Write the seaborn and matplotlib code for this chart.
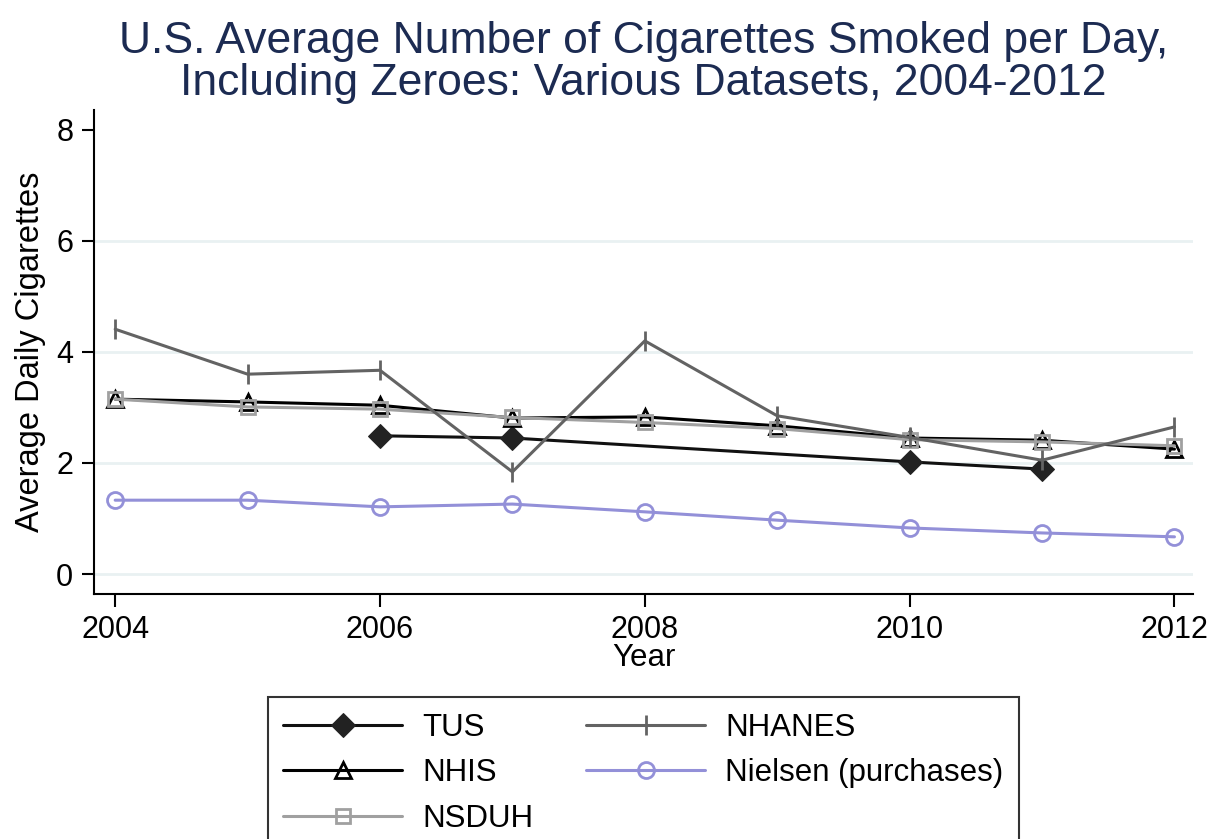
import matplotlib
matplotlib.use("Agg")
import matplotlib.pyplot as plt
import seaborn as sns
import pandas as pd

# Survey years and series values (average daily cigarettes, zeroes included)
years = [2004, 2005, 2006, 2007, 2008, 2009, 2010, 2011, 2012]
tus_years = [2006, 2007, 2010, 2011]
tus = [2.49, 2.45, 2.02, 1.89]
nhis = [3.15, 3.10, 3.04, 2.81, 2.83, 2.67, 2.45, 2.41, 2.25]
nsduh = [3.15, 3.01, 2.97, 2.82, 2.73, 2.62, 2.42, 2.38, 2.31]
nhanes = [4.41, 3.60, 3.67, 1.84, 4.20, 2.85, 2.46, 2.05, 2.65]
nielsen = [1.33, 1.33, 1.21, 1.26, 1.12, 0.97, 0.83, 0.74, 0.67]

x_ticks = [2004, 2006, 2008, 2010, 2012]
y_ticks = [0, 2, 4, 6, 8]

title = "U.S. Average Number of Cigarettes Smoked per Day,\nIncluding Zeroes: Various Datasets, 2004-2012"

sns.set_theme(style="white")
plt.rcParams["font.family"] = ["Liberation Sans", "DejaVu Sans"]
plt.rcParams["text.color"] = "black"
plt.rcParams["axes.labelcolor"] = "black"
plt.rcParams["xtick.color"] = "black"
plt.rcParams["ytick.color"] = "black"

fig = plt.figure(figsize=(12.13, 8.39), dpi=100)
ax = fig.add_axes([0.0775, 0.292, 0.906, 0.577])

series = [
    ("TUS", tus_years, tus, dict(color="#111111", marker="D", markersize=12,
                                 markerfacecolor="#222222", markeredgecolor="#222222")),
    ("NHIS", years, nhis, dict(color="#000000", marker="^", markersize=11,
                               markerfacecolor="none", markeredgecolor="#000000",
                               markeredgewidth=2)),
    ("NSDUH", years, nsduh, dict(color="#a0a0a0", marker="s", markersize=10.5,
                                 markerfacecolor="none", markeredgecolor="#a0a0a0",
                                 markeredgewidth=2)),
    ("NHANES", years, nhanes, dict(color="#636363", marker="|", markersize=15,
                                   markeredgewidth=2, markeredgecolor="#636363")),
    ("Nielsen (purchases)", years, nielsen, dict(color="#9390d8", marker="o", markersize=11.5,
                                                 markerfacecolor="none", markeredgecolor="#9390d8",
                                                 markeredgewidth=2)),
]

for label, xs, ys, style in series:
    df = pd.DataFrame({"Year": xs, "Value": ys})
    sns.lineplot(data=df, x="Year", y="Value", ax=ax, label=label,
                 linewidth=2.2, **style)

ax.set_xlim(2003.84, 2012.14)
ax.set_ylim(-0.36, 8.36)
ax.set_xticks(x_ticks)
ax.set_yticks(y_ticks)
ax.set_xticklabels([str(t) for t in x_ticks])
ax.set_yticklabels([str(t) for t in y_ticks])
ax.tick_params(axis="both", which="major", direction="out", length=9, width=1.5,
               colors="black", labelsize=22, pad=6, bottom=True, left=True)

for side in ("top", "right"):
    ax.spines[side].set_visible(False)
for side in ("left", "bottom"):
    ax.spines[side].set_visible(True)
    ax.spines[side].set_color("black")
    ax.spines[side].set_linewidth(1.5)

ax.yaxis.grid(True, color="#e9f1f2", linewidth=2)
ax.xaxis.grid(False)
ax.set_axisbelow(True)
fig.canvas.draw()
for t, gl in zip(ax.get_yticks(), ax.yaxis.get_gridlines()):
    if t >= 8:
        gl.set_visible(False)

ax.set_xlabel("Year", fontsize=22.5, color="black", labelpad=-1)
ax.set_ylabel("Average Daily Cigarettes", fontsize=23.5, color="black", labelpad=7)

ax.set_title(title, fontsize=32, color="#1c2b52", linespacing=1.03, pad=11)

leg = ax.legend(loc="upper center", bbox_to_anchor=(0.5, -0.213), ncol=2,
                fontsize=22.5, frameon=True, fancybox=False, edgecolor="black",
                handlelength=3.8, handletextpad=0.65, columnspacing=1.7,
                labelspacing=0.5, borderpad=0.5, borderaxespad=0)
leg.get_frame().set_linewidth(1.5)
for txt in leg.get_texts():
    txt.set_color("black")

fig.savefig("out.png", dpi=100, facecolor="white")
